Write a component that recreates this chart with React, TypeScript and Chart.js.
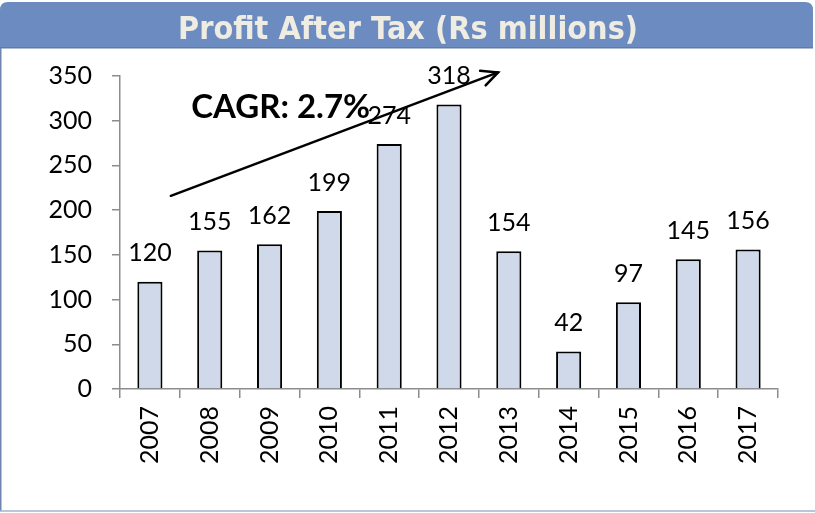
import React, { useEffect, useRef } from "react";
import { Chart, registerables } from "chart.js";

Chart.register(...registerables);

const years = ["2007", "2008", "2009", "2010", "2011", "2012", "2013", "2014", "2015", "2016", "2017"];
const profit = [120, 155, 162, 199, 274, 318, 154, 42, 97, 145, 156];
const yTicks = [0, 50, 100, 150, 200, 250, 300, 350];
const titleText = "Profit After Tax (Rs millions)";
const cagrText = "CAGR: 2.7%";
const arrowStart = { x: 0.35, y: 216 };
const arrowEnd = { x: 5.82, y: 354 };
const cagrPos = { x: 0.69, y: 303 };

const FONT = "Lato";

export default function App() {
  const ref = useRef<HTMLCanvasElement>(null);
  useEffect(() => {
    document.body.style.margin = "0";
    const canvas = ref.current!;
    const decor = {
      id: "decor",
      beforeDraw(chart: any) {
        const ctx = chart.ctx;
        ctx.save();
        ctx.fillStyle = "#ffffff";
        ctx.fillRect(0, 0, 815, 513);
        // title band
        ctx.fillStyle = "#6c8bc0";
        ctx.beginPath();
        const x0 = 0, y0 = 2, x1 = 813, y1 = 48, r = 8;
        ctx.moveTo(x0, y1);
        ctx.lineTo(x0, y0 + r);
        ctx.quadraticCurveTo(x0, y0, x0 + r, y0);
        ctx.lineTo(x1 - r, y0);
        ctx.quadraticCurveTo(x1, y0, x1, y0 + r);
        ctx.lineTo(x1, y1);
        ctx.closePath();
        ctx.fill();
        ctx.fillStyle = "#5f7bab";
        ctx.fillRect(0, 47, 813, 1.5);
        // borders
        ctx.strokeStyle = "#6f87b0";
        ctx.lineWidth = 1.5;
        ctx.beginPath();
        ctx.moveTo(0.75, 48);
        ctx.lineTo(0.75, 511);
        ctx.stroke();
        ctx.strokeStyle = "#a3b3cc";
        ctx.beginPath();
        ctx.moveTo(0, 511);
        ctx.lineTo(815, 511);
        ctx.stroke();
        // title text
        ctx.font = 'bold 32px "DejaVu Sans"';
        const w = ctx.measureText(titleText).width;
        const target = 460;
        ctx.translate(408, 39);
        ctx.scale(target / w, 1.0);
        ctx.fillStyle = "#efece2";
        ctx.textAlign = "center";
        ctx.textBaseline = "alphabetic";
        ctx.fillText(titleText, 0, 0);
        ctx.restore();
      },
      afterDatasetsDraw(chart: any) {
        const ctx = chart.ctx;
        const xs = chart.scales.x;
        const ys = chart.scales.y;
        ctx.save();
        // value labels
        ctx.font = `25px ${FONT}`;
        ctx.fillStyle = "#000";
        ctx.textAlign = "center";
        ctx.textBaseline = "bottom";
        const meta = chart.getDatasetMeta(0);
        meta.data.forEach((bar: any, i: number) => {
          ctx.fillText(String(profit[i]), bar.x, bar.y - 16);
        });
        // arrow
        const sx = xs.getPixelForValue(arrowStart.x);
        const sy = ys.getPixelForValue(arrowStart.y);
        const ex = xs.getPixelForValue(arrowEnd.x);
        const ey = ys.getPixelForValue(arrowEnd.y);
        ctx.strokeStyle = "#000";
        ctx.lineWidth = 2.5;
        ctx.lineCap = "round";
        ctx.beginPath();
        ctx.moveTo(sx, sy);
        ctx.lineTo(ex, ey);
        ctx.stroke();
        const ang = Math.atan2(ey - sy, ex - sx);
        const hl = 18, ha = 0.45;
        ctx.beginPath();
        ctx.moveTo(ex - hl * Math.cos(ang - ha), ey - hl * Math.sin(ang - ha));
        ctx.lineTo(ex, ey);
        ctx.lineTo(ex - hl * Math.cos(ang + ha), ey - hl * Math.sin(ang + ha));
        ctx.stroke();
        // CAGR text
        ctx.font = `bold 33px ${FONT}`;
        ctx.textAlign = "left";
        ctx.textBaseline = "alphabetic";
        ctx.fillText(cagrText, xs.getPixelForValue(cagrPos.x), ys.getPixelForValue(cagrPos.y));
        ctx.restore();
      },
    };
    const chart = new Chart(canvas, {
      type: "bar",
      data: {
        labels: years,
        datasets: [
          {
            data: profit,
            backgroundColor: "#d0d9e9",
            borderColor: "#000000",
            borderWidth: 2,
            barPercentage: 0.42,
            categoryPercentage: 1,
          },
        ],
      },
      options: {
        animation: false,
        responsive: false,
        devicePixelRatio: 1,
        layout: { padding: { top: 76, right: 37, bottom: 0, left: 0 } },
        plugins: { legend: { display: false }, tooltip: { enabled: false }, title: { display: false } },
        scales: {
          x: {
            afterFit: (s: any) => {
              s.height = 513 - 389;
            },
            grid: { drawOnChartArea: false, drawTicks: true, tickLength: 9, color: "#8c8c8c", lineWidth: 1.5, offset: true },
            border: { display: true, color: "#8c8c8c", width: 1.5 },
            ticks: { minRotation: 90, maxRotation: 90, padding: 8, color: "#000", font: { family: FONT, size: 25 } },
          },
          y: {
            min: 0,
            max: 350,
            afterFit: (s: any) => {
              s.width = 120;
            },
            afterBuildTicks: (s: any) => {
              s.ticks = yTicks.map((v) => ({ value: v }));
            },
            grid: { drawOnChartArea: false, drawTicks: true, tickLength: 8, color: "#8c8c8c", lineWidth: 1.5 },
            border: { display: true, color: "#8c8c8c", width: 1.5 },
            ticks: { padding: 20, color: "#000", font: { family: FONT, size: 25 } },
          },
        },
      },
      plugins: [decor],
    });
    return () => chart.destroy();
  }, []);
  return (
    <div style={{ position: "absolute", left: 0, top: 0, width: 815, height: 513 }}>
      <canvas ref={ref} width={815} height={513} style={{ display: "block", width: 815, height: 513 }} />
    </div>
  );
}
